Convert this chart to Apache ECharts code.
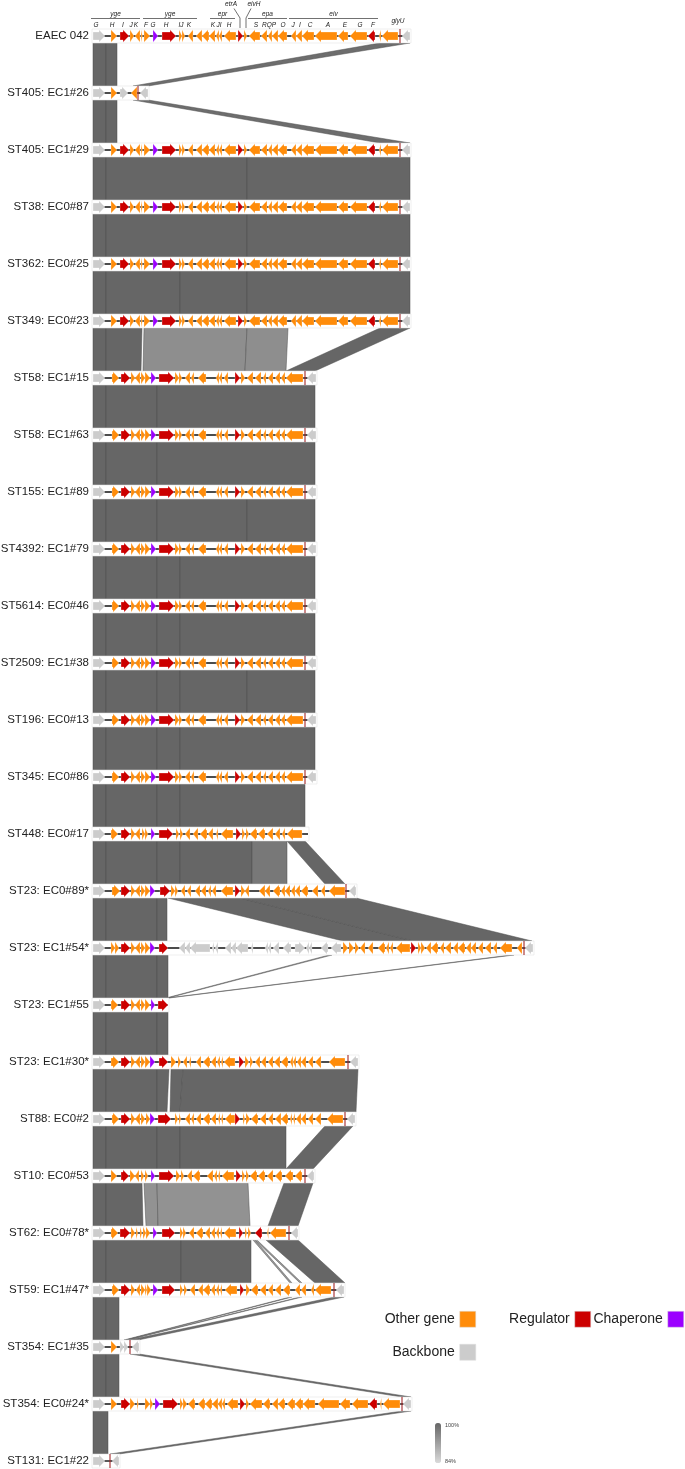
<!DOCTYPE html>
<html><head><meta charset="utf-8">
<script src="https://cdn.jsdelivr.net/npm/echarts@6/dist/echarts.min.js"></script>
<style>html,body{margin:0;padding:0;background:#fff}#c{width:685px;height:1469px}</style>
</head><body><div id="c"></div><script>
// ---------- DATA ----------
const trackNames = ['EAEC 042','ST405: EC1#26','ST405: EC1#29','ST38: EC0#87','ST362: EC0#25','ST349: EC0#23','ST58: EC1#15','ST58: EC1#63','ST155: EC1#89','ST4392: EC1#79','ST5614: EC0#46','ST2509: EC1#38','ST196: EC0#13','ST345: EC0#86','ST448: EC0#17','ST23: EC0#89*','ST23: EC1#54*','ST23: EC1#55','ST23: EC1#30*','ST88: EC0#2','ST10: EC0#53','ST62: EC0#78*','ST59: EC1#47*','ST354: EC1#35','ST354: EC0#24*','ST131: EC1#22'];

// gene: [start, end, strand, type]  type: o=other, r=regulator, c=chaperone, b=backbone, m=marker
const genes042 = [[93,105,1,'b'],[111,117,1,'o'],[120,129,1,'r'],[130,134,1,'o'],[135,140,-1,'o'],[141,142.5,1,'o'],[144,150,1,'o'],[153,158,1,'c'],[162,176,1,'r'],[179,182,1,'o'],[182,185,1,'o'],[188,193,-1,'o'],[196,202,-1,'o'],[202,209,-1,'o'],[209,215,-1,'o'],[216,219,-1,'o'],[219,222,-1,'o'],[224,236,-1,'o'],[238,243,1,'r'],[244,247,1,'o'],[249,260,-1,'o'],[261,267,-1,'o'],[268,272,-1,'o'],[272,278,-1,'o'],[278,287,-1,'o'],[291,296,-1,'o'],[296,302,-1,'o'],[302,314,-1,'o'],[315,337,-1,'o'],[338,348,-1,'o'],[350,367,-1,'o'],[368,375,-1,'r'],[379,381,-1,'o'],[382,398,-1,'o'],[400,400,0,'m'],[402,410,-1,'b']];
const genesEC1_26 = [[93,105,1,'b'],[111,117,1,'o'],[120,128,1,'b'],[131,137,-1,'o'],[138,138,0,'m'],[140,148,-1,'b']];
const genesST58 = [[93,105,1,'b'],[112,119,1,'o'],[121,130,1,'r'],[131,135,1,'o'],[135,140,-1,'o'],[141,145,1,'o'],[145,150,1,'o'],[151,156,1,'c'],[159,174,1,'r'],[175,179,1,'o'],[179,182,1,'o'],[185,190,-1,'o'],[191,194,-1,'o'],[198,206,-1,'o'],[216,219,-1,'o'],[219,222,-1,'o'],[224,228,-1,'o'],[235,240,1,'r'],[241,245,1,'o'],[247,253,-1,'o'],[255,261,-1,'o'],[263,266,-1,'o'],[268,273,-1,'o'],[275,280,-1,'o'],[281,285,-1,'o'],[286,303,-1,'o'],[305,305,0,'m'],[307,316,-1,'b']];
const genesEC0_17 = [[93,105,1,'b'],[111,118,1,'o'],[121,130,1,'r'],[131,135,1,'o'],[135,140,-1,'o'],[142,145,1,'o'],[145,148,1,'o'],[151,155,1,'c'],[159,173,1,'r'],[176,179,1,'o'],[180,183,1,'o'],[185,190,-1,'o'],[193,198,-1,'o'],[200,207,-1,'o'],[208,213,-1,'o'],[216,218,-1,'o'],[221,233,-1,'o'],[236,241,1,'r'],[242,245,1,'o'],[246,249,1,'o'],[250,257,-1,'o'],[258,265,-1,'o'],[267,273,-1,'o'],[275,280,-1,'o'],[282,285,-1,'o'],[287,302,-1,'o']];
const genesEC0_89 = [[93,105,1,'b'],[112,120,1,'o'],[121,130,1,'r'],[131,135,1,'o'],[135,140,-1,'o'],[141,145,1,'o'],[145,150,1,'o'],[150,155,1,'c'],[160,170,1,'r'],[171,175,1,'o'],[175,178,1,'o'],[181,185,-1,'o'],[187,191,-1,'o'],[195,200,-1,'o'],[201,206,-1,'o'],[208,211,-1,'o'],[212,216,-1,'o'],[221,233,-1,'o'],[235,240,1,'r'],[241,245,1,'o'],[245,249,-1,'o'],[259,265,-1,'o'],[265,270,-1,'o'],[273,280,-1,'o'],[281,285,-1,'o'],[285,290,-1,'o'],[291,295,-1,'o'],[295,300,-1,'o'],[301,308,-1,'o'],[312,318,-1,'o'],[321,325,-1,'o'],[329,345,-1,'o'],[346,346,0,'m'],[349,356,-1,'b']];
const genesEC1_54 = [[93,105,1,'b'],[111,115,1,'o'],[115,119,1,'o'],[121,130,1,'r'],[131,135,1,'o'],[135,140,-1,'o'],[141,145,1,'o'],[145,150,1,'o'],[150,155,1,'c'],[159,168,1,'r'],[179,185,-1,'b'],[185,190,-1,'b'],[190,210,-1,'b'],[212,214,-1,'b'],[215,218,-1,'b'],[225,231,-1,'b'],[231,236,-1,'b'],[236,248,-1,'b'],[251,253,-1,'b'],[265,268,-1,'b'],[268,271,-1,'b'],[273,279,-1,'b'],[283,291,-1,'b'],[295,305,1,'b'],[306,309,-1,'b'],[309,312,-1,'b'],[321,328,-1,'b'],[331,341,-1,'b'],[343,348,1,'o'],[349,354,1,'o'],[355,359,1,'o'],[360,365,-1,'o'],[368,373,-1,'o'],[378,385,-1,'o'],[386,389,-1,'o'],[390,393,-1,'o'],[396,410,-1,'o'],[411,416,1,'r'],[418,421,1,'o'],[421,425,1,'o'],[426,431,-1,'o'],[431,438,-1,'o'],[440,444,-1,'o'],[445,451,-1,'o'],[453,458,-1,'o'],[458,465,-1,'o'],[466,471,-1,'o'],[471,476,-1,'o'],[478,483,-1,'o'],[485,491,-1,'o'],[493,497,-1,'o'],[500,512,-1,'o'],[517,522,-1,'o'],[524,524,0,'m'],[525,533,-1,'b']];
const genesEC1_55 = [[93,105,1,'b'],[111,118,1,'o'],[121,130,1,'r'],[131,135,1,'o'],[135,140,-1,'o'],[141,145,1,'o'],[145,150,1,'o'],[151,155,1,'c'],[158,168,1,'r']];
const genesEC1_30 = [[93,105,1,'b'],[111,119,1,'o'],[121,130,1,'r'],[131,135,1,'o'],[135,140,-1,'o'],[141,145,1,'o'],[145,150,1,'o'],[150,155,1,'c'],[159,168,1,'r'],[171,176,1,'o'],[178,181,1,'o'],[183,187,-1,'o'],[189,191,-1,'o'],[196,201,-1,'o'],[203,210,-1,'o'],[211,216,-1,'o'],[217,220,-1,'o'],[221,223,-1,'o'],[224,235,-1,'o'],[239,244,1,'r'],[245,249,1,'o'],[250,253,1,'o'],[255,260,-1,'o'],[261,266,-1,'o'],[268,273,-1,'o'],[274,280,-1,'o'],[281,288,-1,'o'],[290,293,-1,'o'],[293,296,-1,'o'],[297,301,-1,'o'],[301,306,-1,'o'],[308,313,-1,'o'],[315,321,-1,'o'],[329,345,-1,'o'],[348,348,0,'m'],[350,358,-1,'b']];
const genesEC0_2 = [[93,105,1,'b'],[112,119,1,'o'],[121,130,1,'r'],[131,135,1,'o'],[135,140,-1,'o'],[141,145,1,'o'],[146,150,1,'o'],[150,155,1,'c'],[158,171,1,'r'],[175,178,1,'o'],[179,181,1,'o'],[185,190,-1,'o'],[191,194,-1,'o'],[196,201,-1,'o'],[203,210,-1,'o'],[211,216,-1,'o'],[218,220,-1,'o'],[221,223,-1,'o'],[225,235,-1,'o'],[235,240,1,'r'],[243,245,1,'o'],[246,250,1,'o'],[251,258,-1,'o'],[260,266,-1,'o'],[268,273,-1,'o'],[275,281,-1,'o'],[281,288,-1,'o'],[290,292,-1,'o'],[293,295,-1,'o'],[296,301,-1,'o'],[301,306,-1,'o'],[308,313,-1,'o'],[315,321,-1,'o'],[327,343,-1,'o'],[345,345,0,'m'],[347,355,-1,'b']];
const genesEC0_53 = [[93,105,1,'b'],[111,117,1,'o'],[121,129,1,'r'],[130,135,1,'o'],[135,139,-1,'o'],[141,144,1,'o'],[145,148,1,'o'],[151,155,1,'c'],[159,174,1,'r'],[176,180,1,'o'],[181,184,1,'o'],[187,192,-1,'o'],[193,200,-1,'o'],[207,213,-1,'o'],[214,217,-1,'o'],[218,220,-1,'o'],[222,234,-1,'o'],[236,241,1,'r'],[242,245,1,'o'],[246,249,1,'o'],[250,257,-1,'o'],[258,265,-1,'o'],[267,273,-1,'o'],[275,282,-1,'o'],[285,293,-1,'o'],[295,302,-1,'o'],[305,305,0,'m'],[307,314,-1,'b']];
const genesEC0_78 = [[93,105,1,'b'],[111,118,1,'o'],[120,130,1,'r'],[131,135,1,'o'],[136,138,1,'o'],[140,142,1,'o'],[143,146,1,'o'],[146,150,1,'o'],[153,157,1,'c'],[162,175,1,'r'],[180,183,1,'o'],[183,186,1,'o'],[189,194,-1,'o'],[196,203,-1,'o'],[205,210,-1,'o'],[211,215,-1,'o'],[216,219,-1,'o'],[220,222,-1,'o'],[224,236,-1,'o'],[239,243,1,'r'],[245,247,1,'o'],[248,251,1,'o'],[255,262,-1,'r'],[267,268.5,-1,'o'],[270,286,-1,'o'],[289,289,0,'m'],[291,298,-1,'b']];
const genesEC1_47 = [[93,105,1,'b'],[112,119,1,'o'],[121,130,1,'r'],[131,135,1,'o'],[136,140,-1,'o'],[141,145,1,'o'],[145,147,1,'o'],[147,151,1,'o'],[153,158,1,'c'],[162,175,1,'r'],[180,183,1,'o'],[184,187,1,'o'],[190,195,-1,'o'],[198,203,-1,'o'],[203,210,-1,'o'],[211,215,-1,'o'],[216,219,-1,'o'],[220,222,-1,'o'],[225,237,-1,'o'],[240,244,1,'r'],[246,250,1,'o'],[251,258,-1,'o'],[260,266,-1,'o'],[268,273,-1,'o'],[275,281,-1,'o'],[283,290,-1,'o'],[295,300,-1,'o'],[301,306,-1,'o'],[311,314,-1,'o'],[315,331,-1,'o'],[334,334,0,'m'],[336,344,-1,'b']];
const genesEC1_35 = [[93,105,1,'b'],[111,117,1,'o'],[120,124,1,'b'],[124,128,1,'b'],[130,130,0,'m'],[132,139,-1,'b']];
const genesEC0_24 = [[93,105,1,'b'],[111,117,1,'o'],[121,130,1,'r'],[130,135,1,'o'],[137,138.5,1,'o'],[145,150,1,'o'],[150,153,1,'o'],[155,160,1,'c'],[163,178,1,'r'],[180,183,1,'o'],[183,187,1,'o'],[188,195,-1,'o'],[198,205,-1,'o'],[205,212,-1,'o'],[212,218,-1,'o'],[218,222,-1,'o'],[222,225,-1,'o'],[227,238,-1,'o'],[240,245,1,'r'],[246,249,1,'o'],[250,262,-1,'o'],[263,270,-1,'o'],[272,278,-1,'o'],[278,285,-1,'o'],[287,295,-1,'o'],[295,303,-1,'o'],[303,315,-1,'o'],[318,339,-1,'o'],[340,350,-1,'o'],[352,368,-1,'o'],[369,377,-1,'r'],[380,381.5,-1,'o'],[383,400,-1,'o'],[402,402,0,'m'],[403,411,-1,'b']];
const genesEC1_22 = [[93,105,1,'b'],[110,110,0,'m'],[112,119,-1,'b']];

const rowLayouts = [genes042, genesEC1_26, genes042, genes042, genes042, genes042, genesST58, genesST58, genesST58, genesST58, genesST58, genesST58, genesST58, genesST58, genesEC0_17, genesEC0_89, genesEC1_54, genesEC1_55, genesEC1_30, genesEC0_2, genesEC0_53, genesEC0_78, genesEC1_47, genesEC1_35, genesEC0_24, genesEC1_22];

// track extents [start, end]
const trackSpans = [[93,410],[93,148],[93,410],[93,410],[93,410],[93,410],[93,316],[93,316],[93,316],[93,316],[93,316],[93,316],[93,316],[93,316],[93,308],[93,356],[93,533],[93,168],[93,358],[93,355],[93,314],[93,298],[93,344],[93,139],[93,411],[93,119]];

// ribbons: [upperRow, a1, a2, b1, b2, identity %]
const ribbons = [
 [0,93,106,93,106,100],[0,106,117,106,117,100],[0,380,410,133,148,99],
 [1,93,106,93,106,100],[1,106,117,106,117,100],[1,133,148,380,410,99],
 [2,93,106,93,106,100],[2,106,247,106,247,100],[2,247,410,247,410,100],
 [3,93,106,93,106,100],[3,106,247,106,247,100],[3,247,410,247,410,100],
 [4,93,106,93,106,100],[4,106,180,106,180,100],[4,180,247,180,247,100],[4,247,410,247,410,100],
 [5,93,106,93,106,100],[5,106,142,106,141,100],[5,144,247,143,245,94.5],[5,247,288,245,286,94.5],[5,380,410,286,315,100],
 [6,93,106,93,106,100],[6,106,157,106,157,100],[6,157,315,157,315,100],
 [7,93,106,93,106,100],[7,106,157,106,157,100],[7,157,315,157,315,100],
 [8,93,106,93,106,100],[8,106,157,106,157,100],[8,157,247,157,247,100],[8,247,315,247,315,100],
 [9,93,106,93,106,100],[9,106,157,106,157,100],[9,157,180,157,180,100],[9,180,315,180,315,100],
 [10,93,106,93,106,100],[10,106,157,106,157,100],[10,157,180,157,180,100],[10,180,315,180,315,100],
 [11,93,106,93,106,100],[11,106,157,106,157,100],[11,157,180,157,180,100],[11,180,247,180,247,100],[11,247,315,247,315,100],
 [12,93,106,93,106,100],[12,106,157,106,157,100],[12,157,180,157,180,100],[12,180,315,180,315,100],
 [13,93,106,93,106,100],[13,106,157,106,157,100],[13,157,180,157,180,100],[13,180,305,180,305,100],
 [14,93,106,93,106,100],[14,106,157,106,157,100],[14,157,180,157,180,100],[14,180,252,180,252,100],[14,252,287,252,287,97.5],[14,287,305,325,345,100],
 [15,93,106,93,106,100],[15,106,157,106,157,100],[15,157,167,157,167,100],[15,168,240,343,413,100],[15,240,356,413,532,100],
 [16,93,106,93,106,100],[16,106,157,106,157,100],[16,157,168,157,168,100],[16,329,332,166,168,92],[16,511,514,167,169,92],
 [17,93,106,93,106,100],[17,106,157,106,157,100],[17,157,168,157,168,100],
 [18,93,106,93,106,100],[18,106,157,106,157,100],[18,157,169,157,167,100],[18,171,183,170,180,100],[18,183,358,180,356,100],
 [19,93,106,93,106,100],[19,106,157,106,157,100],[19,157,180,157,180,100],[19,180,286,180,286,100],[19,325,353,286,313,100],
 [20,93,106,93,106,100],[20,106,142,106,143,100],[20,144,157,146,158,94],[20,157,248,158,250,94],[20,284,313,268,298,100],
 [21,93,106,93,106,100],[21,106,181,106,181,100],[21,181,251,181,251,100],[21,253,255,290,292,93],[21,255,257,300,302,93],[21,266,298,315,345,100],
 [22,93,106,93,106,100],[22,106,119,106,119,100],[22,290,292,124,126,93],[22,300,302,126,128,93],[22,334,344,129,138,99],
 [23,93,106,93,106,100],[23,106,119,106,119,100],[23,130,139,402,411,99],
 [24,93,108,93,108,100],[24,402,411,110,119,99]
];

// header annotations over EAEC 042
const headerLetters = [[96,'G'],[112,'H'],[123,'I'],[131,'J'],[136,'K'],[146,'F'],[153,'G'],[166,'H'],[181,'IJ'],[189,'K'],[213,'K'],[219,'JI'],[229,'H'],[256,'S'],[269,'RQP'],[283,'O'],[293,'J'],[300,'I'],[310,'C'],[328,'A'],[345,'E'],[360,'G'],[373,'F']];
const headerGroups = [[91,140,'yge'],[143,197,'yge'],[210,235,'epr'],[248,287,'epa'],[289,378,'eiv']];
const headerCallouts = [[231,240,'etrA'],[254,246,'eivH']];
const headerExtra = [[398,'glyU']];

const legendItems = ['Other gene','Regulator','Chaperone','Backbone'];
const legendColors = ['#FF8C0A','#CC0000','#9B00FF','#CCCCCC'];
const typeCodes = ['o','r','c','b'];
const identityRange = [84, 100];
const identityLabels = ['100%','84%'];

// ---------- RENDER ----------
const HALF = 7;
const FONT = 'Liberation Sans, Arial, sans-serif';

function renderRibbon(params, api){
  const r = api.value(0);
  const a1 = api.coord([api.value(1), r]), a2 = api.coord([api.value(2), r]);
  const b1 = api.coord([api.value(3), r+1]), b2 = api.coord([api.value(4), r+1]);
  const yt = a1[1] + HALF, yb = b1[1] - HALF;
  return {type:'polygon', shape:{points:[[a1[0],yt],[a2[0],yt],[b2[0],yb],[b1[0],yb]]},
    style:{fill:api.visual('color'), stroke:'#4f4f4f', lineWidth:0.5}};
}
function renderTrack(params, api){
  const r = api.value(0);
  const p0 = api.coord([api.value(1), r]), p1 = api.coord([api.value(2), r]);
  const y = p0[1];
  return {type:'group', children:[
    {type:'rect', shape:{x:p0[0]-1, y:y-HALF, width:p1[0]-p0[0]+2, height:HALF*2}, style:{fill:'#fff', stroke:'#e4e4e4', lineWidth:0.6}},
    {type:'line', shape:{x1:p0[0], y1:y, x2:p1[0], y2:y}, style:{stroke:'#111', lineWidth:1.4}}
  ]};
}
function renderGene(params, api){
  const r = api.value(0), strand = api.value(3);
  const p0 = api.coord([api.value(1), r]), p1 = api.coord([api.value(2), r]);
  const y = p0[1], x0 = p0[0], x1 = p1[0];
  const len = x1 - x0, H = 6.2, h = 4, hl = Math.min(len, 6);
  let pts;
  if (strand > 0) {
    pts = len <= 6.5 ? [[x0,y-H],[x1,y],[x0,y+H]]
      : [[x0,y-h],[x1-hl,y-h],[x1-hl,y-H],[x1,y],[x1-hl,y+H],[x1-hl,y+h],[x0,y+h]];
  } else {
    pts = len <= 6.5 ? [[x1,y-H],[x0,y],[x1,y+H]]
      : [[x1,y-h],[x0+hl,y-h],[x0+hl,y-H],[x0,y],[x0+hl,y+H],[x0+hl,y+h],[x1,y+h]];
  }
  return {type:'polygon', shape:{points:pts}, style:{fill:api.visual('color'), stroke:'rgba(255,255,255,0.8)', lineWidth:0.35}};
}
function renderMarker(params, api){
  const p = api.coord([api.value(1), api.value(0)]);
  return {type:'line', shape:{x1:p[0], y1:p[1]-HALF, x2:p[0], y2:p[1]+HALF}, style:{stroke:'#a3282a', lineWidth:1.1}};
}
function renderLetter(params, api){
  const p = api.coord([api.value(1), 0]);
  return {type:'text', x:p[0], y:p[1]-11, style:{text:headerLetters[params.dataIndex][1], fontSize:6.5, fontStyle:'italic', fontFamily:FONT, fill:'#222', align:'center', verticalAlign:'middle'}};
}
function renderGroup(params, api){
  const p0 = api.coord([api.value(1), 0]), p1 = api.coord([api.value(2), 0]);
  const y = p0[1];
  return {type:'group', children:[
    {type:'line', shape:{x1:p0[0], y1:y-17.5, x2:p1[0], y2:y-17.5}, style:{stroke:'#333', lineWidth:0.7}},
    {type:'text', x:(p0[0]+p1[0])/2, y:y-21.5, style:{text:headerGroups[params.dataIndex][2], fontSize:6.5, fontStyle:'italic', fontFamily:FONT, fill:'#222', align:'center', verticalAlign:'middle'}}
  ]};
}
function renderCallout(params, api){
  const pt = api.coord([api.value(1), 0]), pg = api.coord([api.value(2), 0]);
  const y = pt[1], dir = pg[0] > pt[0] ? 1 : -1;
  return {type:'group', children:[
    {type:'polyline', shape:{points:[[pt[0]+dir*3, y-27.5],[pg[0], y-18],[pg[0], y-8]]}, style:{stroke:'#333', lineWidth:0.7, fill:null}},
    {type:'text', x:pt[0], y:y-32, style:{text:headerCallouts[params.dataIndex][2], fontSize:6.5, fontStyle:'italic', fontFamily:FONT, fill:'#222', align:'center', verticalAlign:'middle'}}
  ]};
}
function renderExtra(params, api){
  const p = api.coord([api.value(1), 0]);
  return {type:'text', x:p[0], y:p[1]-14.5, style:{text:headerExtra[params.dataIndex][1], fontSize:6.5, fontStyle:'italic', fontFamily:FONT, fill:'#222', align:'center', verticalAlign:'middle'}};
}

const geneSeries = typeCodes.map((code, i) => {
  const data = [];
  rowLayouts.forEach((g, row) => g.forEach(d => { if (d[3] === code) data.push([row, d[0], d[1], d[2]]); }));
  return {name:legendItems[i], type:'custom', renderItem:renderGene, data, encode:{x:[1,2], y:0}, itemStyle:{color:legendColors[i]}, z:4, silent:true};
});
const markerData = [];
rowLayouts.forEach((g, row) => g.forEach(d => { if (d[3] === 'm') markerData.push([row, d[0]]); }));

const legendCommon = {orient:'horizontal', align:'right', icon:'rect', itemWidth:16, itemHeight:16, selectedMode:false, padding:0,
  textStyle:{fontSize:14, color:'#222', fontFamily:FONT}, itemStyle:{borderColor:'#ddd', borderWidth:0.5}};

const option = {
  animation:false,
  backgroundColor:'#fff',
  grid:{left:93, right:0, top:36, bottom:8, containLabel:false, outerBoundsMode:'none'},
  xAxis:{type:'value', min:93, max:685, show:false},
  yAxis:{type:'category', data:trackNames, inverse:true, boundaryGap:false,
    axisLine:{show:false}, axisTick:{show:false}, splitLine:{show:false},
    axisLabel:{fontSize:11.5, color:'#222', margin:4, fontFamily:FONT}},
  visualMap:{type:'continuous', min:identityRange[0], max:identityRange[1], dimension:5, seriesIndex:0,
    orient:'vertical', left:435, top:1423, itemWidth:6, itemHeight:40, padding:0, calculable:false,
    text:null, hoverLink:false, inRange:{color:['#dadada','#666666']}},
  legend:[
    Object.assign({data:[legendItems[0]], right:209, top:1311}, legendCommon),
    Object.assign({data:[legendItems[1]], right:94, top:1311}, legendCommon),
    Object.assign({data:[legendItems[2]], right:1, top:1311}, legendCommon),
    Object.assign({data:[legendItems[3]], right:209, top:1344}, legendCommon)
  ],
  graphic:[
    {type:'text', left:445, top:1422, style:{text:identityLabels[0], fontSize:5.5, fill:'#444', fontFamily:FONT}},
    {type:'text', left:445, top:1458, style:{text:identityLabels[1], fontSize:5.5, fill:'#444', fontFamily:FONT}}
  ],
  series:[
    {name:'identity', type:'custom', renderItem:renderRibbon, data:ribbons, encode:{x:[1,2,3,4], y:0}, z:1, silent:true},
    {name:'tracks', type:'custom', renderItem:renderTrack, data:trackSpans.map((s,i)=>[i, s[0], s[1]]), encode:{x:[1,2], y:0}, z:2, silent:true},
    ...geneSeries,
    {name:'markers', type:'custom', renderItem:renderMarker, data:markerData, encode:{x:1, y:0}, z:5, silent:true},
    {name:'letters', type:'custom', renderItem:renderLetter, data:headerLetters.map(d=>[0, d[0]]), encode:{x:1, y:0}, z:6, silent:true},
    {name:'groups', type:'custom', renderItem:renderGroup, data:headerGroups.map(d=>[0, d[0], d[1]]), encode:{x:[1,2], y:0}, z:6, silent:true},
    {name:'callouts', type:'custom', renderItem:renderCallout, data:headerCallouts.map(d=>[0, d[0], d[1]]), encode:{x:[1,2], y:0}, z:6, silent:true},
    {name:'extra', type:'custom', renderItem:renderExtra, data:headerExtra.map(d=>[0, d[0]]), encode:{x:1, y:0}, z:6, silent:true}
  ]
};
const chart = echarts.init(document.getElementById('c'), null, {renderer:'canvas'});
chart.setOption(option);
</script></body></html>
